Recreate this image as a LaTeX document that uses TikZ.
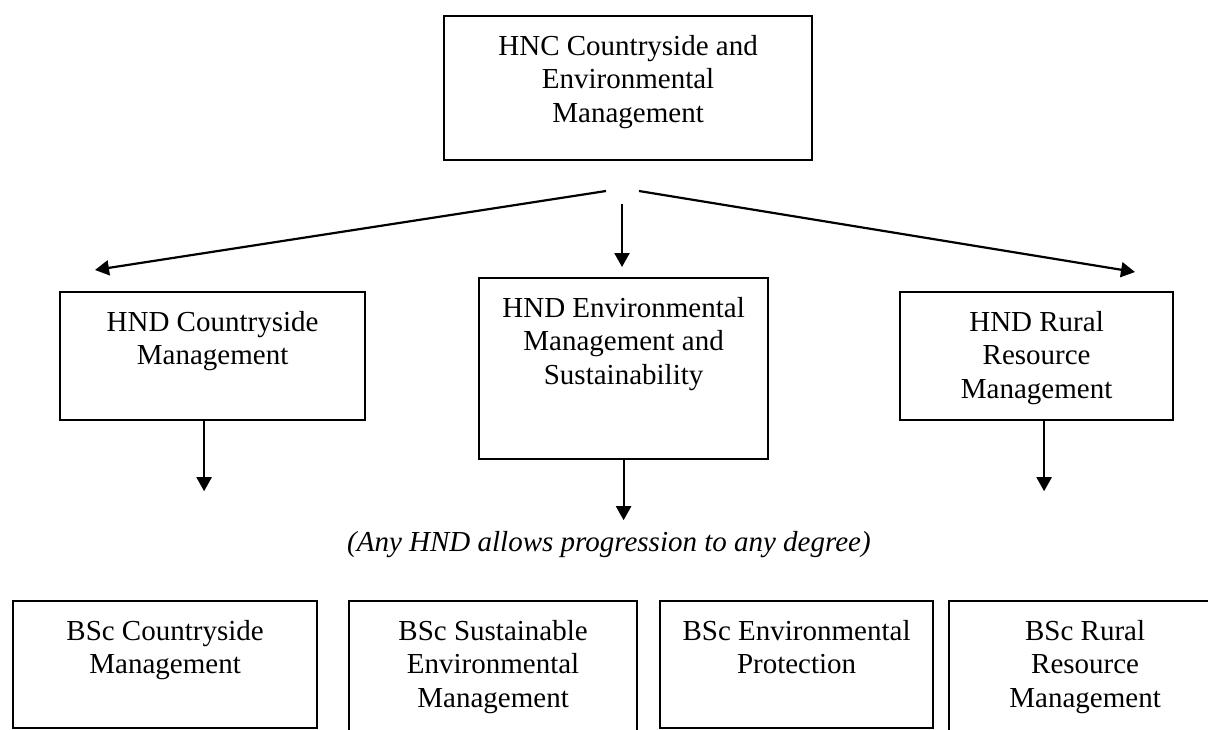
\documentclass[tikz,border=0pt]{standalone}
\usepackage{fontspec}
\setmainfont{Liberation Serif}
\usetikzlibrary{arrows.meta}
\newcommand{\bx}[3]{\parbox[c][#2pt][t]{#1pt}{\centering\rule{0pt}{39pt}#3}}
\tikzset{
  boxnode/.style={draw, line width=2.2pt, inner sep=0pt, anchor=north west,
    font=\fontsize{29}{33.5}\selectfont},
  arr/.style={line width=2.2pt, -{Triangle[length=14pt,width=15pt]}}
}
\begin{document}
\begin{tikzpicture}[x=1pt,y=-1pt]
\clip (0,0) rectangle (1208,729);
\fill[white] (0,0) rectangle (1208,729);

\node[boxnode] (hnc) at (443,15) {\bx{368}{144}{HNC Countryside and\\Environmental\\Management}};

\node[boxnode] (hnd1) at (59,291) {\bx{305}{128}{HND Countryside\\Management}};
\node[boxnode] (hnd2) at (478,277) {\bx{289}{181}{HND Environmental\\Management and\\Sustainability}};
\node[boxnode] (hnd3) at (899,291) {\bx{273}{128}{HND Rural\\Resource\\Management}};

\node[boxnode] (bsc1) at (12,600) {\bx{304}{127}{BSc Countryside\\Management}};
\node[boxnode] (bsc2) at (348,600) {\bx{288}{160}{BSc Sustainable\\Environmental\\Management}};
\node[boxnode] (bsc3) at (659,600) {\bx{273}{127}{BSc Environmental\\Protection}};
\node[boxnode] (bsc4) at (948,600) {\bx{272}{160}{BSc Rural\\Resource\\Management}};

\node[anchor=west, inner sep=0pt, font=\fontsize{29}{33.5}\selectfont\itshape] (note) at (347,545) {(Any HND allows progression to any degree)};

\coordinate (a1s) at (606,191);
\coordinate (a1e) at (95,270);
\coordinate (a2s) at (622,204);
\coordinate (a2e) at (622,267);
\coordinate (a3s) at (639,191);
\coordinate (a3e) at (1135,272);

\draw[arr] (a1s) -- (a1e);
\draw[arr] (a2s) -- (a2e);
\draw[arr] (a3s) -- (a3e);

\draw[arr] ([xshift=-8.5pt]hnd1.south) -- ++(0,70);
\draw[arr] (hnd2.south) -- ++(0,60);
\draw[arr] ([xshift=7.5pt]hnd3.south) -- ++(0,70);
\end{tikzpicture}
\end{document}
